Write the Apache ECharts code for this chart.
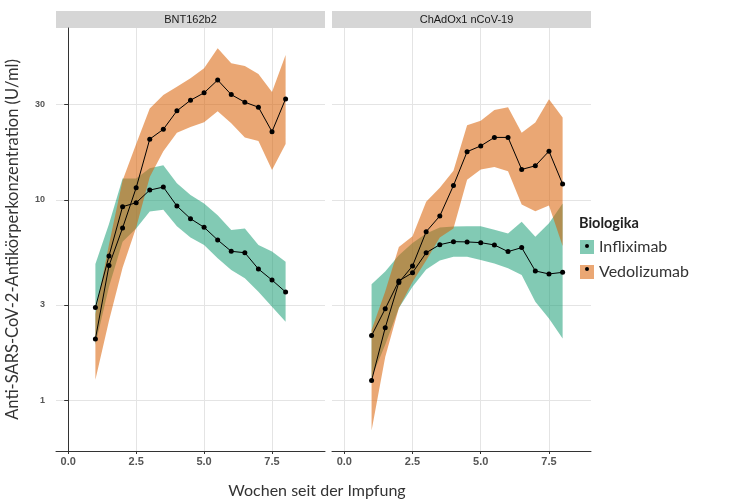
<!DOCTYPE html>
<html><head><meta charset="utf-8">
<script src="https://cdn.jsdelivr.net/npm/echarts@6/dist/echarts.min.js"></script>
<style>html,body{margin:0;padding:0;background:#fff}#c{width:747px;height:499px}</style>
</head><body><div id="c"></div>
<script>
const weeks = [1, 1.5, 2, 2.5, 3, 3.5, 4, 4.5, 5, 5.5, 6, 6.5, 7, 7.5, 8];
const xTicks = [0, 2.5, 5, 7.5];
const yTicks = [1, 3, 10, 30];
const panels = ['BNT162b2', 'ChAdOx1 nCoV-19'];
const groups = ['Infliximab', 'Vedolizumab'];

// BNT162b2
const bntInfMean = [2.91, 5.26, 9.26, 9.69, 11.2, 11.6, 9.33, 8.07, 7.31, 6.32, 5.55, 5.46, 4.53, 3.99, 3.48];
const bntInfLow  = [1.9, 3.7, 6.2, 7.2, 8.76, 8.94, 7.4, 6.5, 5.97, 5.12, 4.48, 4.07, 3.49, 2.94, 2.47];
const bntInfHigh = [4.8, 7.6, 12.8, 12.8, 14.4, 14.9, 12.1, 10.6, 9.6, 8.4, 7.08, 7.2, 5.97, 5.53, 4.93];
const bntVedMean = [2.03, 4.71, 7.25, 11.5, 20.1, 22.5, 27.8, 31.4, 34.2, 39.6, 33.5, 30.7, 29.0, 21.9, 31.9];
const bntVedLow  = [1.27, 2.5, 4.6, 7.3, 13.0, 17.5, 21.6, 23.1, 24.4, 27.7, 24.1, 20.5, 19.7, 14.1, 19.0];
const bntVedHigh = [2.7, 6.0, 12.5, 19.0, 28.6, 33.4, 36.7, 40.4, 45.3, 57.0, 48.0, 46.5, 42.4, 34.5, 52.8];
// ChAdOx1 nCoV-19
const chaInfMean = [2.11, 2.87, 3.95, 4.34, 5.46, 5.99, 6.2, 6.18, 6.13, 5.97, 5.53, 5.79, 4.43, 4.28, 4.36];
const chaInfLow  = [1.3, 1.9, 2.9, 3.7, 4.5, 5.0, 5.22, 5.22, 5.02, 4.83, 4.57, 4.23, 3.11, 2.57, 2.04];
const chaInfHigh = [3.8, 4.4, 5.3, 6.1, 6.8, 7.3, 7.37, 7.4, 7.4, 7.1, 6.8, 7.8, 6.56, 7.65, 9.6];
const chaVedMean = [1.26, 2.31, 3.88, 4.69, 6.95, 8.32, 11.8, 17.4, 18.6, 20.5, 20.5, 14.2, 14.8, 17.5, 12.0];
const chaVedLow  = [0.71, 1.65, 2.9, 3.9, 5.0, 6.5, 7.2, 12.6, 14.2, 14.6, 13.9, 9.5, 8.8, 9.4, 5.9];
const chaVedHigh = [2.25, 3.5, 5.83, 6.6, 9.8, 11.5, 14.0, 23.6, 24.8, 28.1, 29.0, 21.6, 24.3, 31.8, 25.8];

const TEAL = 'rgba(27,158,119,0.55)';
const ORANGE = 'rgba(217,95,2,0.55)';

function band(name, gi, lo, hi, color) {
  return {
    type: 'custom', name: name, xAxisIndex: gi, yAxisIndex: gi,
    data: weeks.map((w, i) => [w, lo[i], hi[i]]),
    encode: { x: 0, y: [1, 2] },
    itemStyle: { color: color },
    silent: true, z: 1,
    renderItem: function (params, api) {
      if (params.dataIndex !== 0) return null;
      const top = weeks.map((w, i) => api.coord([w, hi[i]]));
      const bot = weeks.map((w, i) => api.coord([w, lo[i]])).reverse();
      return { type: 'polygon', shape: { points: top.concat(bot) }, style: { fill: color } };
    }
  };
}
function line(name, gi, mean) {
  return {
    type: 'line', name: name, xAxisIndex: gi, yAxisIndex: gi,
    data: weeks.map((w, i) => [w, mean[i]]),
    symbol: 'circle', symbolSize: 5, showSymbol: true,
    lineStyle: { color: '#000', width: 1 }, itemStyle: { color: '#000' },
    silent: true, z: 3
  };
}

const FONT = 'Lato';
const chart = echarts.init(document.getElementById('c'), null, { renderer: 'canvas' });
chart.setOption({
  animation: false,
  backgroundColor: '#fff',
  grid: [
    { left: 56, top: 28, width: 269, height: 423 },
    { left: 332, top: 28, width: 259, height: 423 }
  ],
  xAxis: [0, 1].map(i => ({
    type: 'value', gridIndex: i, min: -0.45, max: i === 0 ? 9.45 : 9.04,
    axisLine: { show: true, onZero: false, lineStyle: { color: '#333', width: 1 } },
    axisTick: { show: true, length: 3, customValues: xTicks, lineStyle: { color: '#333' } },
    axisLabel: { customValues: xTicks, formatter: v => Number(v).toFixed(1), fontSize: 11, fontWeight: 'bold',
                 color: '#555', margin: 5, fontFamily: 'Liberation Sans' },
    splitLine: { show: true, lineStyle: { color: '#e4e4e4', width: 1 } }
  })),
  yAxis: [0, 1].map(i => ({
    type: 'log', logBase: 10, gridIndex: i, min: 0.5614, max: 71.94,
    axisLine: { show: i === 0, lineStyle: { color: '#333', width: 1 } },
    axisTick: { show: i === 0, length: 4, customValues: yTicks, lineStyle: { color: '#333' } },
    axisLabel: { show: i === 0, customValues: yTicks, fontSize: 9, fontWeight: 'bold', color: '#555',
                 margin: 11, fontFamily: 'Liberation Sans' },
    splitLine: { show: true, lineStyle: { color: '#e4e4e4', width: 1 } },
    minorSplitLine: { show: false },
    name: i === 0 ? 'Anti-SARS-CoV-2-Antikörperkonzentration (U/ml)' : '',
    nameLocation: 'middle', nameGap: 35,
    nameTextStyle: { fontSize: 16.5, color: '#333', fontFamily: FONT }
  })),
  legend: {
    data: groups, orient: 'vertical', left: 580, top: 239, padding: 0,
    icon: 'rect', itemWidth: 14, itemHeight: 14, itemGap: 9,
    textStyle: { fontSize: 16, color: '#333', fontFamily: FONT, lineHeight: 14 },
    selectedMode: false
  },
  graphic: [
    { type: 'rect', shape: { x: 56, y: 11, width: 269, height: 17 }, style: { fill: '#d6d6d6' }, silent: true },
    { type: 'rect', shape: { x: 332, y: 11, width: 259, height: 17 }, style: { fill: '#d6d6d6' }, silent: true },
    { type: 'text', x: 190.5, y: 20, style: { text: panels[0], align: 'center', verticalAlign: 'middle',
      font: '11px "Liberation Sans"', fill: '#1a1a1a' }, silent: true },
    { type: 'text', x: 466.5, y: 20, style: { text: panels[1], align: 'center', verticalAlign: 'middle',
      font: '11px "Liberation Sans"', fill: '#1a1a1a' }, silent: true },
    { type: 'text', x: 317, y: 491, style: { text: 'Wochen seit der Impfung', align: 'center', verticalAlign: 'middle',
      font: '16px Lato', fill: '#333' }, silent: true },
    { type: 'text', x: 579, y: 223, style: { text: 'Biologika', align: 'left', verticalAlign: 'middle',
      font: 'bold 14.5px Lato', fill: '#222' }, silent: true },
    { type: 'circle', shape: { cx: 587, cy: 246, r: 2 }, style: { fill: '#000' }, z: 100, silent: true },
    { type: 'circle', shape: { cx: 587, cy: 269, r: 2 }, style: { fill: '#000' }, z: 100, silent: true }
  ],
  series: [
    band(groups[0], 0, bntInfLow, bntInfHigh, TEAL),
    band(groups[0], 1, chaInfLow, chaInfHigh, TEAL),
    band(groups[1], 0, bntVedLow, bntVedHigh, ORANGE),
    band(groups[1], 1, chaVedLow, chaVedHigh, ORANGE),
    line('Infliximab Verlauf BNT', 0, bntInfMean),
    line('Vedolizumab Verlauf BNT', 0, bntVedMean),
    line('Infliximab Verlauf ChAd', 1, chaInfMean),
    line('Vedolizumab Verlauf ChAd', 1, chaVedMean)
  ]
});
</script></body></html>
